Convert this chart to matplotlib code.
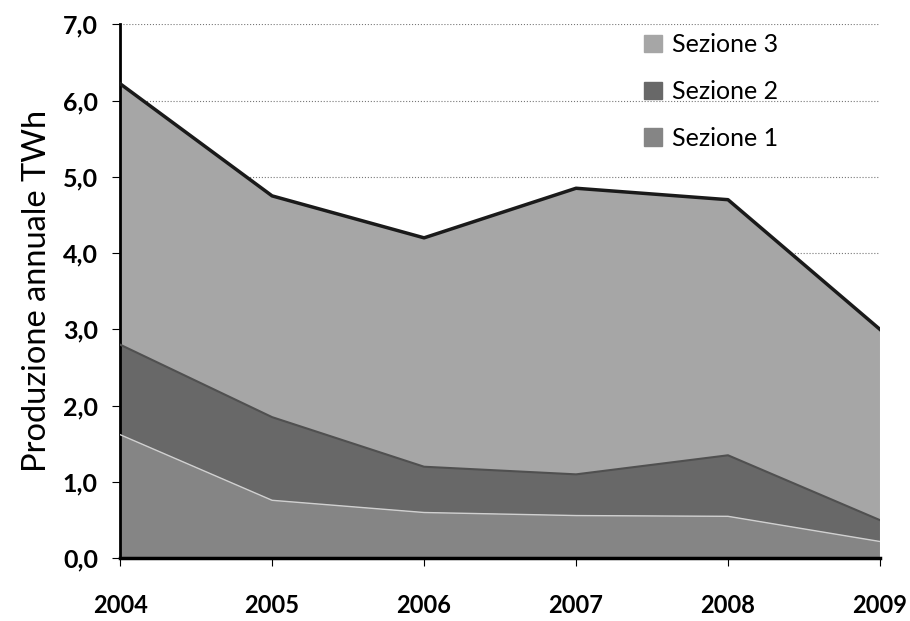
import numpy as np
import matplotlib.pyplot as plt
from matplotlib.ticker import FuncFormatter
from matplotlib.patches import Patch

plt.rcParams['font.family'] = ['Lato', 'DejaVu Sans']

anni = [2004, 2005, 2006, 2007, 2008, 2009]
sezione_1 = [1.62, 0.76, 0.60, 0.56, 0.55, 0.22]
sezione_2 = [1.18, 1.09, 0.60, 0.54, 0.80, 0.28]
sezione_3 = [3.42, 2.90, 3.00, 3.75, 3.35, 2.50]

etichette = ['Sezione 1', 'Sezione 2', 'Sezione 3']
colori = ['#858585', '#686868', '#a6a6a6']

fig = plt.figure(figsize=(9.1, 6.21), dpi=100)
ax = fig.add_axes([0.132, 0.101, 0.835, 0.86])

ax.stackplot(anni, sezione_1, sezione_2, sezione_3, colors=colori,
             labels=etichette, zorder=2)
totale = np.array(sezione_1) + np.array(sezione_2) + np.array(sezione_3)
ax.plot(anni, totale, color='#1a1a1a', lw=2.5, zorder=3)
ax.plot(anni, np.array(sezione_1), color='#d0d0d0', lw=1, zorder=3)
ax.plot(anni, np.array(sezione_1) + np.array(sezione_2), color='#505050', lw=1.5, zorder=3)

ax.set_xlim(2004, 2009)
ax.set_ylim(0, 7)
ax.set_yticks(np.arange(0, 8, 1))
ax.set_xticks(anni)
ax.yaxis.set_major_formatter(FuncFormatter(lambda v, p: ('%.1f' % v).replace('.', ',')))
ax.grid(axis='y', linestyle=':', color='#777777', lw=0.8, zorder=0)

for s in ['top', 'right']:
    ax.spines[s].set_visible(False)
ax.spines['left'].set_linewidth(2)
ax.spines['bottom'].set_linewidth(2.5)

ax.tick_params(axis='x', length=6, pad=20, labelsize=17)
ax.tick_params(axis='y', length=6, pad=10, labelsize=18)
for lab in ax.get_xticklabels() + ax.get_yticklabels():
    lab.set_fontweight('bold')

ax.set_ylabel('Produzione annuale TWh', fontsize=23.5, labelpad=8)

maniglie = [Patch(color=colori[i]) for i in [2, 1, 0]]
ax.legend(maniglie, ['Sezione 3', 'Sezione 2', 'Sezione 1'], loc='upper left',
          bbox_to_anchor=(0.66, 1.025), frameon=False, fontsize=18,
          handlelength=0.7, handleheight=0.7, labelspacing=0.95, handletextpad=0.4)

fig.savefig('out.png', dpi=100)
